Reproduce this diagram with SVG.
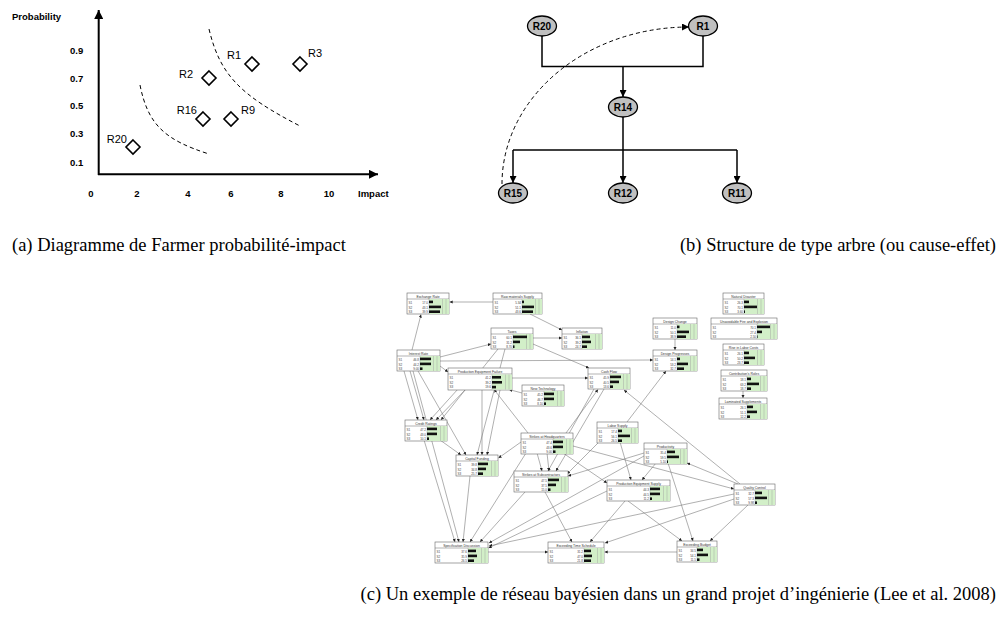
<svg xmlns="http://www.w3.org/2000/svg" xmlns:xlink="http://www.w3.org/1999/xlink" width="1000" height="618" viewBox="0 0 1000 618">
<style>
.ax{stroke:#000;stroke-width:2;fill:none}
.bl{font-family:"Liberation Sans",Arial,sans-serif;font-weight:bold;font-size:9.5px;fill:#000}
.rl{font-family:"Liberation Sans",Arial,sans-serif;font-size:11px;fill:#000}
.dm{fill:#fff;stroke:#000;stroke-width:1.6}
.dash{fill:none;stroke:#000;stroke-width:1;stroke-dasharray:4 3}
.el{fill:#c0c0c0;stroke:#000;stroke-width:1.3}
.tl{font-family:"Liberation Sans",Arial,sans-serif;font-weight:bold;font-size:10px;fill:#000;text-anchor:middle}
.tr{fill:none;stroke:#000;stroke-width:1.5}
.cap{font-family:"Liberation Serif","Times New Roman",serif;font-size:18.5px;fill:#000}
.nb{fill:#fff;stroke:#666;stroke-width:0.6}
.nl{stroke:#666;stroke-width:0.5}
.nt{font-family:"Liberation Sans",Arial,sans-serif;font-size:3.4px;fill:#333;text-anchor:middle}
.nv{font-family:"Liberation Sans",Arial,sans-serif;font-size:3px;fill:#444}
.nr{font-family:"Liberation Sans",Arial,sans-serif;font-size:3px;fill:#444;text-anchor:end}
.bar{fill:#111}
.ed{stroke:#7a7a7a;stroke-width:0.6;fill:none;marker-end:url(#mc)}
</style>
<defs>
<marker id="ma" viewBox="0 0 10 10" refX="10" refY="5" markerWidth="9" markerHeight="9" markerUnits="userSpaceOnUse" orient="auto"><path d="M0,0L10,5L0,10z" fill="#000"/></marker>
<marker id="mb" viewBox="0 0 10 10" refX="10" refY="5" markerWidth="7" markerHeight="7" markerUnits="userSpaceOnUse" orient="auto"><path d="M0,0L10,5L0,10z" fill="#000"/></marker>
<marker id="mc" viewBox="0 0 10 10" refX="10" refY="5" markerWidth="3.2" markerHeight="3.2" markerUnits="userSpaceOnUse" orient="auto"><path d="M0,0L10,5L0,10z" fill="#222"/></marker>
<g id="gp"><rect x="0" y="0" width="20" height="15" fill="#d2efc8"/><line x1="13.5" y1="0" x2="13.5" y2="15" stroke="#9a9a9a" stroke-width="0.4"/><line x1="17" y1="0" x2="17" y2="15" stroke="#9a9a9a" stroke-width="0.4"/><line x1="0" y1="0" x2="0" y2="15" stroke="#9a9a9a" stroke-width="0.4"/></g>
<g id="rw"><text class="nv" x="1.5" y="10.5">S1</text><text class="nv" x="1.5" y="15.5">S2</text><text class="nv" x="1.5" y="20.3">S3</text></g>
</defs>
<rect width="1000" height="618" fill="#fff"/>

<!-- Panel (a) -->
<g id="chart-a">
<line class="ax" x1="98.7" y1="175" x2="98.7" y2="10" marker-end="url(#ma)"/>
<line class="ax" x1="98" y1="174.3" x2="378" y2="174.3" marker-end="url(#ma)"/>
<text class="bl" x="12" y="20">Probability</text>
<text class="bl" x="70" y="54">0.9</text>
<text class="bl" x="70" y="82">0.7</text>
<text class="bl" x="70" y="109">0.5</text>
<text class="bl" x="70" y="137">0.3</text>
<text class="bl" x="70" y="166">0.1</text>
<g class="bl" text-anchor="middle">
<text x="91" y="197">0</text><text x="137" y="197">2</text><text x="188" y="197">4</text><text x="231" y="197">6</text><text x="281" y="197">8</text><text x="329" y="197">10</text>
</g>
<text class="bl" x="358" y="197">Impact</text>
<path class="dash" d="M140,85 C148,125 165,140 209,154"/>
<path class="dash" d="M209,29 C220,75 240,95 300,126"/>
</g>
<g id="a-R20"><polygon class="dm" points="133,140 140,147 133,154 126,147"/><text class="rl" x="127" y="143" text-anchor="end">R20</text></g>
<g id="a-R16"><polygon class="dm" points="203,112 210,119 203,126 196,119"/><text class="rl" x="197" y="114" text-anchor="end">R16</text></g>
<g id="a-R9"><polygon class="dm" points="231,112 238,119 231,126 224,119"/><text class="rl" x="241" y="114">R9</text></g>
<g id="a-R2"><polygon class="dm" points="209,71 216,78 209,85 202,78"/><text class="rl" x="193" y="78" text-anchor="end">R2</text></g>
<g id="a-R1"><polygon class="dm" points="252,57 259,64 252,71 245,64"/><text class="rl" x="227" y="59">R1</text></g>
<g id="a-R3"><polygon class="dm" points="300,57 307,64 300,71 293,64"/><text class="rl" x="308" y="57">R3</text></g>

<!-- Panel (b) -->
<g id="b-connectors">
<path class="tr" d="M542,36 V66.5 H703 V36"/>
<path class="tr" d="M623,66.5 V97" marker-end="url(#mb)"/>
<path class="tr" d="M623,117 V150"/>
<path class="tr" d="M513,150 H737"/>
<path class="tr" d="M513,150 V183" marker-end="url(#mb)"/>
<path class="tr" d="M623,150 V183" marker-end="url(#mb)"/>
<path class="tr" d="M737,150 V183" marker-end="url(#mb)"/>
<path class="dash" d="M502,184 A187,157 0 0 1 689,27" marker-end="url(#mb)"/>
</g>
<g id="b-R20"><ellipse class="el" cx="542" cy="26" rx="14.5" ry="10"/><text class="tl" x="542" y="29.5">R20</text></g>
<g id="b-R1"><ellipse class="el" cx="703" cy="26" rx="14.5" ry="10"/><text class="tl" x="703" y="29.5">R1</text></g>
<g id="b-R14"><ellipse class="el" cx="623" cy="107" rx="14.5" ry="10"/><text class="tl" x="623" y="110.5">R14</text></g>
<g id="b-R15"><ellipse class="el" cx="513" cy="193" rx="14.5" ry="10"/><text class="tl" x="513" y="196.5">R15</text></g>
<g id="b-R12"><ellipse class="el" cx="623" cy="193" rx="14.5" ry="10"/><text class="tl" x="623" y="196.5">R12</text></g>
<g id="b-R11"><ellipse class="el" cx="737" cy="193" rx="14.5" ry="10"/><text class="tl" x="737" y="196.5">R11</text></g>

<text class="cap" x="12" y="251">(a) Diagramme de Farmer probabilité-impact</text>
<text class="cap" x="996" y="251" text-anchor="end">(b) Structure de type arbre (ou cause-effet)</text>

<!-- Panel (c) connectors -->
<g id="c-connectors">
<path class="ed" d="M493,302 L449.5,302"/>
<path class="ed" d="M530,314 L562,330"/>
<path class="ed" d="M412,350 L421,314.5"/>
<path class="ed" d="M440,357 L491,344"/>
<path class="ed" d="M533,338 L562,338"/>
<path class="ed" d="M533,344 L589,368"/>
<path class="ed" d="M440,361 L653,360"/>
<path class="ed" d="M440,366 L448,372"/>
<path class="ed" d="M512,378 L588,378"/>
<path class="ed" d="M522,393 L509,389.5"/>
<path class="ed" d="M528,433 L494,389.5"/>
<path class="ed" d="M410,371 L424,420"/>
<path class="ed" d="M404,371 L418,420"/>
<path class="ed" d="M466,389 L436,420"/>
<path class="ed" d="M458,389 L430,420"/>
<path class="ed" d="M498,349 L441,420"/>
<path class="ed" d="M418,371 L466,455"/>
<path class="ed" d="M413,371 L459,542"/>
<path class="ed" d="M505,349 L477,455"/>
<path class="ed" d="M482,390 L482,455"/>
<path class="ed" d="M500,390 L487,455"/>
<path class="ed" d="M566,433 L598,389.5"/>
<path class="ed" d="M594,389 L548,471"/>
<path class="ed" d="M604,389 L556,471"/>
<path class="ed" d="M627,422 L666,371"/>
<path class="ed" d="M675,339 L675,350"/>
<path class="ed" d="M743,391 L743,398"/>
<path class="ed" d="M740,484 L624,390"/>
<path class="ed" d="M738,484 L687,463"/>
<path class="ed" d="M573,446 L734,489"/>
<path class="ed" d="M644,453 L568,476"/>
<path class="ed" d="M599,442 L567,474"/>
<path class="ed" d="M620,442 L631,480"/>
<path class="ed" d="M656,463 L642,480"/>
<path class="ed" d="M668,463 L693,541"/>
<path class="ed" d="M628,501 L682,541"/>
<path class="ed" d="M625,501 L590,542"/>
<path class="ed" d="M748,505 L710,541"/>
<path class="ed" d="M734,499 L605,543"/>
<path class="ed" d="M734,494 L489,546"/>
<path class="ed" d="M644,456 L489,543"/>
<path class="ed" d="M677,552 L604.5,552"/>
<path class="ed" d="M488,552 L548,552"/>
<path class="ed" d="M545,492 L572,542"/>
<path class="ed" d="M537,453 L542,471"/>
<path class="ed" d="M547,453 L549,471"/>
<path class="ed" d="M521,442 L498.5,458"/>
<path class="ed" d="M440,440 L461,455"/>
<path class="ed" d="M424,440 L455,542"/>
<path class="ed" d="M470,476 L463,542"/>
<path class="ed" d="M525,492 L480,542"/>
<path class="ed" d="M526,453 L470,542"/>
<path class="ed" d="M563,453 L607,483"/>
<path class="ed" d="M607,491 L488.5,548"/>
</g>

<!-- Panel (c) nodes -->
<g id="n-ER" transform="translate(407,293)"><rect class="nb" width="42" height="21"/><line class="nl" x1="0" y1="6" x2="42" y2="6"/><text class="nt" x="21" y="4.8">Exchange Rate</text><use xlink:href="#gp" x="22" y="6"/><use xlink:href="#rw"/><text class="nr" x="21" y="10.5">17.0</text><text class="nr" x="21" y="15.5">43.1</text><text class="nr" x="21" y="20.3">39.9</text><rect class="bar" x="22" y="7.6" width="4" height="2.6"/><rect class="bar" x="22" y="12.6" width="12" height="2.6"/><rect class="bar" x="22" y="17.4" width="11" height="2.6"/></g>
<g id="n-RMS" transform="translate(493,293)"><rect class="nb" width="49" height="21"/><line class="nl" x1="0" y1="6" x2="49" y2="6"/><text class="nt" x="24.5" y="4.8">Raw materials Supply</text><use xlink:href="#gp" x="29" y="6"/><use xlink:href="#rw"/><text class="nr" x="28" y="10.5">5.34</text><text class="nr" x="28" y="15.5">51.1</text><text class="nr" x="28" y="20.3">43.6</text><rect class="bar" x="29" y="7.6" width="2" height="2.6"/><rect class="bar" x="29" y="12.6" width="12" height="2.6"/><rect class="bar" x="29" y="17.4" width="11" height="2.6"/></g>
<g id="n-TX" transform="translate(491,328)"><rect class="nb" width="42" height="21"/><line class="nl" x1="0" y1="6" x2="42" y2="6"/><text class="nt" x="21" y="4.8">Taxes</text><use xlink:href="#gp" x="22" y="6"/><use xlink:href="#rw"/><text class="nr" x="21" y="10.5">60.1</text><text class="nr" x="21" y="15.5">31.2</text><text class="nr" x="21" y="20.3">8.70</text><rect class="bar" x="22" y="7.6" width="14" height="2.6"/><rect class="bar" x="22" y="12.6" width="7" height="2.6"/><rect class="bar" x="22" y="17.4" width="1.5" height="2.6"/></g>
<g id="n-INF" transform="translate(562,328)"><rect class="nb" width="40" height="21"/><line class="nl" x1="0" y1="6" x2="40" y2="6"/><text class="nt" x="20" y="4.8">Inflation</text><use xlink:href="#gp" x="20" y="6"/><use xlink:href="#rw"/><text class="nr" x="19" y="10.5">36.1</text><text class="nr" x="19" y="15.5">39.2</text><text class="nr" x="19" y="20.3">24.7</text><rect class="bar" x="20" y="7.6" width="8" height="2.6"/><rect class="bar" x="20" y="12.6" width="9" height="2.6"/><rect class="bar" x="20" y="17.4" width="5" height="2.6"/></g>
<g id="n-IR" transform="translate(397,350)"><rect class="nb" width="43" height="21"/><line class="nl" x1="0" y1="6" x2="43" y2="6"/><text class="nt" x="21.5" y="4.8">Interest Rate</text><use xlink:href="#gp" x="23" y="6"/><use xlink:href="#rw"/><text class="nr" x="22" y="10.5">46.8</text><text class="nr" x="22" y="15.5">44.2</text><text class="nr" x="22" y="20.3">9.00</text><rect class="bar" x="23" y="7.6" width="11" height="2.6"/><rect class="bar" x="23" y="12.6" width="11" height="2.6"/><rect class="bar" x="23" y="17.4" width="2.5" height="2.6"/></g>
<g id="n-PEF" transform="translate(448,368)"><rect class="nb" width="64" height="22"/><line class="nl" x1="0" y1="6" x2="64" y2="6"/><text class="nt" x="32" y="4.8">Production Equipment Failure</text><use xlink:href="#gp" x="44" y="6.5"/><use xlink:href="#rw"/><text class="nr" x="43" y="10.5">41.2</text><text class="nr" x="43" y="15.5">39.2</text><text class="nr" x="43" y="20.3">19.6</text><rect class="bar" x="44" y="8" width="9" height="2.6"/><rect class="bar" x="44" y="13" width="10" height="2.6"/><rect class="bar" x="44" y="17.8" width="4" height="2.6"/></g>
<g id="n-NT" transform="translate(522,385)"><rect class="nb" width="42" height="21"/><line class="nl" x1="0" y1="6" x2="42" y2="6"/><text class="nt" x="21" y="4.8">New Technology</text><use xlink:href="#gp" x="22" y="6"/><use xlink:href="#rw"/><text class="nr" x="21" y="10.5">45.2</text><text class="nr" x="21" y="15.5">46.7</text><text class="nr" x="21" y="20.3">8.10</text><rect class="bar" x="22" y="7.6" width="10" height="2.6"/><rect class="bar" x="22" y="12.6" width="10" height="2.6"/><rect class="bar" x="22" y="17.4" width="2" height="2.6"/></g>
<g id="n-CF" transform="translate(588,368)"><rect class="nb" width="42" height="21"/><line class="nl" x1="0" y1="6" x2="42" y2="6"/><text class="nt" x="21" y="4.8">Cash Flow</text><use xlink:href="#gp" x="22" y="6"/><use xlink:href="#rw"/><text class="nr" x="21" y="10.5">45.9</text><text class="nr" x="21" y="15.5">40.5</text><text class="nr" x="21" y="20.3">13.6</text><rect class="bar" x="22" y="7.6" width="11" height="2.6"/><rect class="bar" x="22" y="12.6" width="9" height="2.6"/><rect class="bar" x="22" y="17.4" width="3" height="2.6"/></g>
<g id="n-DC" transform="translate(653,318)"><rect class="nb" width="44" height="21"/><line class="nl" x1="0" y1="6" x2="44" y2="6"/><text class="nt" x="22" y="4.8">Design Change</text><use xlink:href="#gp" x="24" y="6"/><use xlink:href="#rw"/><text class="nr" x="23" y="10.5">11.0</text><text class="nr" x="23" y="15.5">50.1</text><text class="nr" x="23" y="20.3">38.9</text><rect class="bar" x="24" y="7.6" width="2.5" height="2.6"/><rect class="bar" x="24" y="12.6" width="12" height="2.6"/><rect class="bar" x="24" y="17.4" width="9" height="2.6"/></g>
<g id="n-DP" transform="translate(653,350)"><rect class="nb" width="44" height="21"/><line class="nl" x1="0" y1="6" x2="44" y2="6"/><text class="nt" x="22" y="4.8">Design Progresses</text><use xlink:href="#gp" x="24" y="6"/><use xlink:href="#rw"/><text class="nr" x="23" y="10.5">14.1</text><text class="nr" x="23" y="15.5">53.2</text><text class="nr" x="23" y="20.3">32.7</text><rect class="bar" x="24" y="7.6" width="3" height="2.6"/><rect class="bar" x="24" y="12.6" width="11" height="2.6"/><rect class="bar" x="24" y="17.4" width="7" height="2.6"/></g>
<g id="n-ND" transform="translate(723,293)"><rect class="nb" width="41" height="21"/><line class="nl" x1="0" y1="6" x2="41" y2="6"/><text class="nt" x="20.5" y="4.8">Natural Disaster</text><use xlink:href="#gp" x="21" y="6"/><use xlink:href="#rw"/><text class="nr" x="20" y="10.5">26.3</text><text class="nr" x="20" y="15.5">70.1</text><text class="nr" x="20" y="20.3">3.60</text><rect class="bar" x="21" y="7.6" width="5" height="2.6"/><rect class="bar" x="21" y="12.6" width="13" height="2.6"/><rect class="bar" x="21" y="17.4" width="1" height="2.6"/></g>
<g id="n-UFE" transform="translate(711,318)"><rect class="nb" width="66" height="21"/><line class="nl" x1="0" y1="6" x2="66" y2="6"/><text class="nt" x="33" y="4.8">Unavoidable Fire and Explosion</text><use xlink:href="#gp" x="46" y="6"/><use xlink:href="#rw"/><text class="nr" x="45" y="10.5">70.1</text><text class="nr" x="45" y="15.5">27.4</text><text class="nr" x="45" y="20.3">2.50</text><rect class="bar" x="46" y="7.6" width="13" height="2.6"/><rect class="bar" x="46" y="12.6" width="5" height="2.6"/><rect class="bar" x="46" y="17.4" width="0.6" height="2.6"/></g>
<g id="n-RLC" transform="translate(723,344)"><rect class="nb" width="41" height="21"/><line class="nl" x1="0" y1="6" x2="41" y2="6"/><text class="nt" x="20.5" y="4.8">Rise in Labor Costs</text><use xlink:href="#gp" x="21" y="6"/><use xlink:href="#rw"/><text class="nr" x="20" y="10.5">26.1</text><text class="nr" x="20" y="15.5">50.2</text><text class="nr" x="20" y="20.3">23.7</text><rect class="bar" x="21" y="7.6" width="5" height="2.6"/><rect class="bar" x="21" y="12.6" width="11" height="2.6"/><rect class="bar" x="21" y="17.4" width="5" height="2.6"/></g>
<g id="n-CRO" transform="translate(721,370)"><rect class="nb" width="46" height="21"/><line class="nl" x1="0" y1="6" x2="46" y2="6"/><text class="nt" x="23" y="4.8">Contribution's Roles</text><use xlink:href="#gp" x="26" y="6"/><use xlink:href="#rw"/><text class="nr" x="25" y="10.5">18.1</text><text class="nr" x="25" y="15.5">63.2</text><text class="nr" x="25" y="20.3">18.7</text><rect class="bar" x="26" y="7.6" width="4" height="2.6"/><rect class="bar" x="26" y="12.6" width="12" height="2.6"/><rect class="bar" x="26" y="17.4" width="4" height="2.6"/></g>
<g id="n-LSP" transform="translate(719,398)"><rect class="nb" width="48" height="21"/><line class="nl" x1="0" y1="6" x2="48" y2="6"/><text class="nt" x="24" y="4.8">Laminated Supplements</text><use xlink:href="#gp" x="28" y="6"/><use xlink:href="#rw"/><text class="nr" x="27" y="10.5">26.1</text><text class="nr" x="27" y="15.5">51.1</text><text class="nr" x="27" y="20.3">12.2</text><rect class="bar" x="28" y="7.6" width="6" height="2.6"/><rect class="bar" x="28" y="12.6" width="10" height="2.6"/><rect class="bar" x="28" y="17.4" width="3" height="2.6"/></g>
<g id="n-CRT" transform="translate(405,420)"><rect class="nb" width="42" height="21"/><line class="nl" x1="0" y1="6" x2="42" y2="6"/><text class="nt" x="21" y="4.8">Credit Ratings</text><use xlink:href="#gp" x="22" y="6"/><use xlink:href="#rw"/><text class="nr" x="21" y="10.5">47.2</text><text class="nr" x="21" y="15.5">43.0</text><text class="nr" x="21" y="20.3">10.1</text><rect class="bar" x="22" y="7.6" width="10" height="2.6"/><rect class="bar" x="22" y="12.6" width="10" height="2.6"/><rect class="bar" x="22" y="17.4" width="2" height="2.6"/></g>
<g id="n-SHQ" transform="translate(521,433)"><rect class="nb" width="52" height="21"/><line class="nl" x1="0" y1="6" x2="52" y2="6"/><text class="nt" x="26" y="4.8">Strikes at Headquarters</text><use xlink:href="#gp" x="32" y="6"/><use xlink:href="#rw"/><text class="nr" x="31" y="10.5">47.4</text><text class="nr" x="31" y="15.5">43.6</text><text class="nr" x="31" y="20.3">9.00</text><rect class="bar" x="32" y="7.6" width="10" height="2.6"/><rect class="bar" x="32" y="12.6" width="10" height="2.6"/><rect class="bar" x="32" y="17.4" width="2.5" height="2.6"/></g>
<g id="n-LS" transform="translate(597,422)"><rect class="nb" width="41" height="21"/><line class="nl" x1="0" y1="6" x2="41" y2="6"/><text class="nt" x="20.5" y="4.8">Labor Supply</text><use xlink:href="#gp" x="21" y="6"/><use xlink:href="#rw"/><text class="nr" x="20" y="10.5">17.4</text><text class="nr" x="20" y="15.5">56.1</text><text class="nr" x="20" y="20.3">26.5</text><rect class="bar" x="21" y="7.6" width="4" height="2.6"/><rect class="bar" x="21" y="12.6" width="12" height="2.6"/><rect class="bar" x="21" y="17.4" width="4" height="2.6"/></g>
<g id="n-PR" transform="translate(644,443)"><rect class="nb" width="43" height="21"/><line class="nl" x1="0" y1="6" x2="43" y2="6"/><text class="nt" x="21.5" y="4.8">Productivity</text><use xlink:href="#gp" x="23" y="6"/><use xlink:href="#rw"/><text class="nr" x="22" y="10.5">35.4</text><text class="nr" x="22" y="15.5">59.5</text><text class="nr" x="22" y="20.3">5.10</text><rect class="bar" x="23" y="7.6" width="8" height="2.6"/><rect class="bar" x="23" y="12.6" width="12" height="2.6"/><rect class="bar" x="23" y="17.4" width="1" height="2.6"/></g>
<g id="n-CFD" transform="translate(456,455)"><rect class="nb" width="42" height="21"/><line class="nl" x1="0" y1="6" x2="42" y2="6"/><text class="nt" x="21" y="4.8">Capital Funding</text><use xlink:href="#gp" x="22" y="6"/><use xlink:href="#rw"/><text class="nr" x="21" y="10.5">39.8</text><text class="nr" x="21" y="15.5">34.8</text><text class="nr" x="21" y="20.3">25.7</text><rect class="bar" x="22" y="7.6" width="10" height="2.6"/><rect class="bar" x="22" y="12.6" width="8" height="2.6"/><rect class="bar" x="22" y="17.4" width="5" height="2.6"/></g>
<g id="n-SSC" transform="translate(514,471)"><rect class="nb" width="54" height="21"/><line class="nl" x1="0" y1="6" x2="54" y2="6"/><text class="nt" x="27" y="4.8">Strikes at Subcontractors</text><use xlink:href="#gp" x="34" y="6"/><use xlink:href="#rw"/><text class="nr" x="33" y="10.5">47.5</text><text class="nr" x="33" y="15.5">37.5</text><text class="nr" x="33" y="20.3">15.0</text><rect class="bar" x="34" y="7.6" width="11" height="2.6"/><rect class="bar" x="34" y="12.6" width="8" height="2.6"/><rect class="bar" x="34" y="17.4" width="2.5" height="2.6"/></g>
<g id="n-PES" transform="translate(607,480)"><rect class="nb" width="63" height="21"/><line class="nl" x1="0" y1="6" x2="63" y2="6"/><text class="nt" x="31.5" y="4.8">Production Equipment Supply</text><use xlink:href="#gp" x="43" y="6"/><use xlink:href="#rw"/><text class="nr" x="42" y="10.5">44.3</text><text class="nr" x="42" y="15.5">44.5</text><text class="nr" x="42" y="20.3">11.2</text><rect class="bar" x="43" y="7.6" width="10" height="2.6"/><rect class="bar" x="43" y="12.6" width="10" height="2.6"/><rect class="bar" x="43" y="17.4" width="2" height="2.6"/></g>
<g id="n-QC" transform="translate(734,484)"><rect class="nb" width="41" height="21"/><line class="nl" x1="0" y1="6" x2="41" y2="6"/><text class="nt" x="20.5" y="4.8">Quality Control</text><use xlink:href="#gp" x="21" y="6"/><use xlink:href="#rw"/><text class="nr" x="20" y="10.5">32.7</text><text class="nr" x="20" y="15.5">57.3</text><text class="nr" x="20" y="20.3">9.98</text><rect class="bar" x="21" y="7.6" width="7" height="2.6"/><rect class="bar" x="21" y="12.6" width="12" height="2.6"/><rect class="bar" x="21" y="17.4" width="2" height="2.6"/></g>
<g id="n-SD" transform="translate(435,542)"><rect class="nb" width="53" height="21"/><line class="nl" x1="0" y1="6" x2="53" y2="6"/><text class="nt" x="26.5" y="4.8">Specification Discussion</text><use xlink:href="#gp" x="33" y="6"/><use xlink:href="#rw"/><text class="nr" x="32" y="10.5">37.6</text><text class="nr" x="32" y="15.5">35.9</text><text class="nr" x="32" y="20.3">26.5</text><rect class="bar" x="33" y="7.6" width="8" height="2.6"/><rect class="bar" x="33" y="12.6" width="9" height="2.6"/><rect class="bar" x="33" y="17.4" width="6" height="2.6"/></g>
<g id="n-ETS" transform="translate(548,542)"><rect class="nb" width="56" height="21"/><line class="nl" x1="0" y1="6" x2="56" y2="6"/><text class="nt" x="28" y="4.8">Exceeding Time Schedule</text><use xlink:href="#gp" x="36" y="6"/><use xlink:href="#rw"/><text class="nr" x="35" y="10.5">31.2</text><text class="nr" x="35" y="15.5">47.0</text><text class="nr" x="35" y="20.3">21.8</text><rect class="bar" x="36" y="7.6" width="7" height="2.6"/><rect class="bar" x="36" y="12.6" width="8" height="2.6"/><rect class="bar" x="36" y="17.4" width="7" height="2.6"/></g>
<g id="n-EB" transform="translate(677,541)"><rect class="nb" width="40" height="21"/><line class="nl" x1="0" y1="6" x2="40" y2="6"/><text class="nt" x="20" y="4.8">Exceeding Budget</text><use xlink:href="#gp" x="20" y="6"/><use xlink:href="#rw"/><text class="nr" x="19" y="10.5">34.5</text><text class="nr" x="19" y="15.5">54.1</text><text class="nr" x="19" y="20.3">11.5</text><rect class="bar" x="20" y="7.6" width="6" height="2.6"/><rect class="bar" x="20" y="12.6" width="11" height="2.6"/><rect class="bar" x="20" y="17.4" width="2.5" height="2.6"/></g>

<text class="cap" x="996" y="600" text-anchor="end">(c) Un exemple de réseau bayésien dans un grand projet d’ingénierie (Lee et al. 2008)</text>
</svg>
